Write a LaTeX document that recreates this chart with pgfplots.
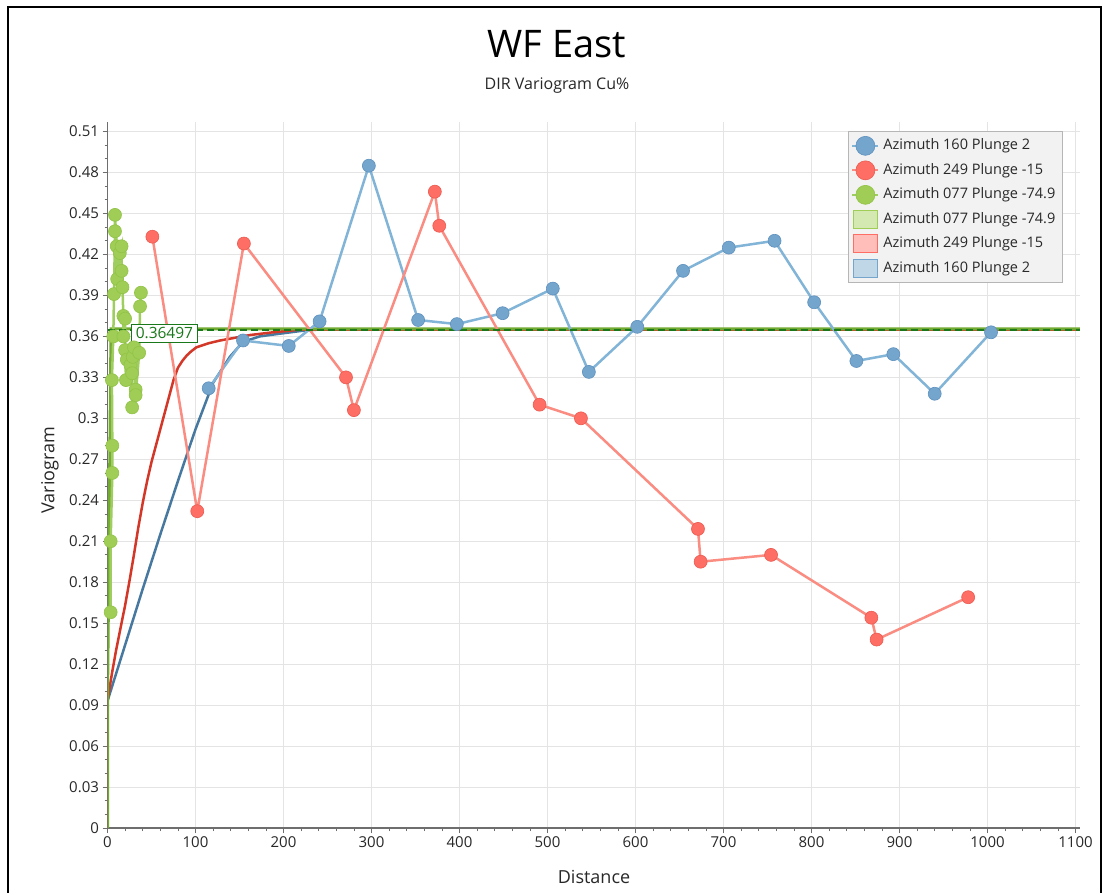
\documentclass[border=0pt]{standalone}
\usepackage{pgfplots}
\pgfplotsset{compat=1.18}
\usepackage{fontspec}
\setmainfont{Open Sans}
\definecolor{bluept}{RGB}{115,165,205}
\definecolor{blueedge}{RGB}{95,145,190}
\definecolor{blueln}{RGB}{130,180,215}
\definecolor{bluemod}{RGB}{70,120,160}
\definecolor{redpt}{RGB}{255,110,100}
\definecolor{rededge}{RGB}{235,90,80}
\definecolor{redln}{RGB}{250,140,130}
\definecolor{redmod}{RGB}{210,55,40}
\definecolor{greenpt}{RGB}{160,205,85}
\definecolor{greenedge}{RGB}{145,195,70}
\definecolor{greenln}{RGB}{160,205,95}
\definecolor{greenmod}{RGB}{115,170,50}
\definecolor{sillgreen}{RGB}{25,120,25}
\definecolor{axgray}{RGB}{110,110,110}
\definecolor{gridgray}{RGB}{228,228,228}
\definecolor{txt}{RGB}{40,40,40}
\begin{document}
\begin{tikzpicture}[x=1pt,y=1pt]
\useasboundingbox (0,0) rectangle (1105,-893);
\fill[white] (0,0) rectangle (1105,-893);
\draw[black, line width=2pt] (8,-893) -- (8,-7) -- (1101,-7) -- (1101,-893);
\node[font=\fontsize{38}{46}\selectfont, text=black] at (557,-44) {WF East};
\node[font=\fontsize{16}{19}\selectfont, text=txt] at (557,-86) {DIR Variogram Cu\%};
\node[rotate=90, font=\fontsize{18}{21}\selectfont, text=txt] at (50,-470) {Variogram};
\node[font=\fontsize{18}{21}\selectfont, text=txt] at (594,-877) {Distance};
\begin{axis}[
  at={(107.5pt,-828pt)}, anchor=south west,
  scale only axis, width=972.4pt, height=706pt,
  xmin=0, xmax=1105, ymin=0, ymax=0.517,
  axis x line*=bottom, axis y line*=left,
  axis line style={draw=axgray, line width=1.2pt, -},
  xtick={0,100,...,1100},
  ytick={0,0.03,0.06,0.09,0.12,0.15,0.18,0.21,0.24,0.27,0.3,0.33,0.36,0.39,0.42,0.45,0.48,0.51},
  minor x tick num=4, minor y tick num=2,
  tick align=outside,
  major tick length=5pt, minor tick length=3pt,
  tick style={draw=axgray, line width=0.8pt},
  grid=major, major grid style={draw=gridgray, line width=1pt},
  ticklabel style={font=\fontsize{15}{17}\selectfont, text=txt},
  /pgf/number format/assume math mode=true,
  yticklabel style={/pgf/number format/.cd, fixed, precision=2},
  xticklabel style={/pgf/number format/.cd, fixed, 1000 sep={}},
  legend style={at={(0.7615,0.987)}, anchor=north west,
    draw=gridgray!80!black, fill=black!5, line width=0.8pt,
    font=\fontsize{14.5}{16}\selectfont, text=txt,
    row sep=4pt, inner xsep=3pt, inner ysep=4pt,
    nodes={text height=11pt, text depth=3.5pt, inner ysep=3pt, inner xsep=4pt}},
  legend cell align=left,
]
% model curves
\addplot[draw=bluemod, line width=2.5pt, forget plot] coordinates {
(0,0) (0,0.093) (20,0.134) (40,0.175) (60,0.215) (80,0.254) (100,0.292) (120,0.326) (139,0.345) (154,0.356) (173,0.360) (196,0.362) (220,0.364) (240,0.365) (1105,0.365)};
\addplot[draw=redmod, line width=2.5pt, forget plot] coordinates {
(0,0) (0,0.093) (5,0.113) (10,0.131) (15,0.147) (20,0.163) (25,0.181) (30,0.200) (35,0.220) (40,0.238) (45,0.254) (50,0.268) (55,0.280) (60,0.292) (65,0.304) (70,0.316) (75,0.328) (80,0.337) (85,0.342) (90,0.346) (95,0.349) (101,0.352) (115,0.355) (128,0.357) (145,0.359) (162,0.361) (188,0.363) (220,0.365) (1105,0.365)};
\addplot[draw=greenmod, line width=3pt, forget plot] coordinates {
(0,0) (0,0.093) (4,0.3655) (1105,0.3655)};
% experimental data
\addplot[draw=blueln, line width=2.5pt, mark=*, mark size=6.5pt,
  mark options={fill=bluept, draw=blueedge, line width=0.6pt}, forget plot] coordinates {
(115,0.322) (154,0.357) (206,0.353) (241,0.371) (297,0.485) (353,0.372) (397,0.369) (449,0.377) (506,0.395) (547,0.334) (602,0.367) (654,0.408) (706,0.425) (758,0.430) (803,0.385) (851,0.342) (893,0.347) (940,0.318) (1004,0.363)};
\addplot[draw=redln, line width=2.5pt, mark=*, mark size=6.5pt,
  mark options={fill=redpt, draw=rededge, line width=0.6pt}, forget plot] coordinates {
(51,0.433) (102,0.232) (155,0.428) (271,0.330) (280,0.306) (372,0.466) (377,0.441) (491,0.310) (538,0.300) (671,0.219) (674,0.195) (754,0.200) (868,0.154) (874,0.138) (978,0.169)};
\addplot[draw=greenln, line width=2.5pt, mark=*, mark size=6.5pt,
  mark options={fill=greenpt, draw=greenedge, line width=0.6pt}, forget plot] coordinates {
(3.6,0.158) (3.6,0.210) (5.5,0.260) (5.5,0.280) (5.0,0.328) (6.6,0.360) (7.4,0.391) (8.5,0.437) (8.5,0.449) (10.5,0.426) (11,0.402) (14,0.421) (16,0.426) (16,0.408) (17,0.396) (18,0.375) (18,0.360) (20,0.373) (20,0.350) (21,0.328) (22,0.343) (26,0.339) (28,0.333) (28,0.308) (28.6,0.345) (30,0.352) (32,0.321) (32,0.317) (36,0.348) (37,0.382) (38,0.392)};
% sill
\addplot[draw=sillgreen, line width=2pt, dash pattern=on 7pt off 4pt, forget plot] coordinates {(0,0.36497) (1105,0.36497)};
\node[draw=sillgreen, line width=1pt, fill=white, text=sillgreen, anchor=west,
  font=\fontsize{15.5}{18}\selectfont, inner xsep=4pt, inner ysep=3pt] at (axis cs:27,0.3622) {0.36497};
% legend
\addlegendimage{legend image code/.code={\draw[blueln, line width=2pt] (0pt,0pt)--(26pt,0pt); \filldraw[fill=bluept, draw=blueedge, line width=0.6pt] (13pt,0pt) circle (9.5pt);}}
\addlegendentry{Azimuth 160 Plunge 2}
\addlegendimage{legend image code/.code={\draw[redln, line width=2pt] (0pt,0pt)--(26pt,0pt); \filldraw[fill=redpt, draw=rededge, line width=0.6pt] (13pt,0pt) circle (9.5pt);}}
\addlegendentry{Azimuth 249 Plunge -15}
\addlegendimage{legend image code/.code={\draw[greenln, line width=2pt] (0pt,0pt)--(26pt,0pt); \filldraw[fill=greenpt, draw=greenedge, line width=0.6pt] (13pt,0pt) circle (9.5pt);}}
\addlegendentry{Azimuth 077 Plunge -74.9}
\addlegendimage{legend image code/.code={\filldraw[fill=greenpt!45, draw=greenpt, line width=1pt] (1pt,-9pt) rectangle (25pt,9pt);}}
\addlegendentry{Azimuth 077 Plunge -74.9}
\addlegendimage{legend image code/.code={\filldraw[fill=redpt!45, draw=redpt, line width=1pt] (1pt,-9pt) rectangle (25pt,9pt);}}
\addlegendentry{Azimuth 249 Plunge -15}
\addlegendimage{legend image code/.code={\filldraw[fill=bluept!45, draw=bluept, line width=1pt] (1pt,-9pt) rectangle (25pt,9pt);}}
\addlegendentry{Azimuth 160 Plunge 2}
\end{axis}
\end{tikzpicture}
\end{document}
